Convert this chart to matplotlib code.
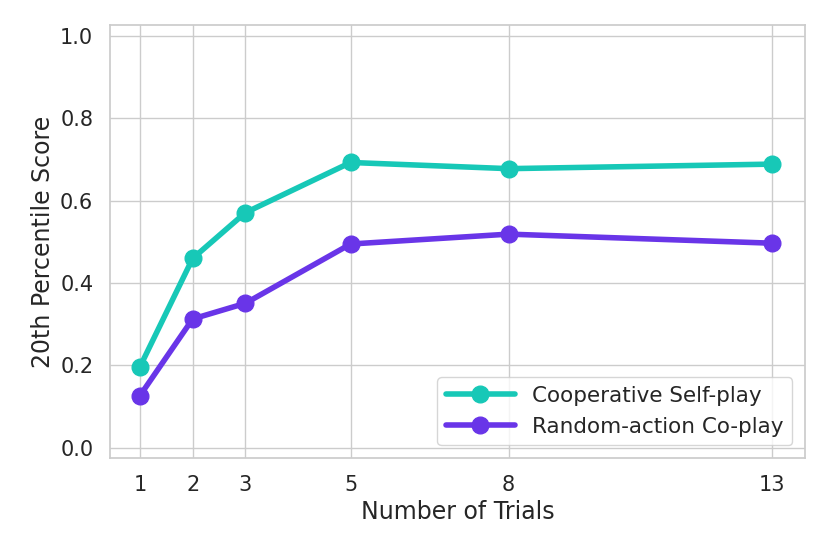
import matplotlib
matplotlib.use("Agg")
import matplotlib.pyplot as plt
import seaborn as sns

trials = [1, 2, 3, 5, 8, 13]
coop_selfplay = [0.197, 0.460, 0.571, 0.693, 0.678, 0.689]
random_coplay = [0.127, 0.313, 0.351, 0.495, 0.519, 0.497]
labels = ["Cooperative Self-play", "Random-action Co-play"]
colors = ["#17c8b7", "#6935e8"]

sns.set_theme(style="whitegrid")
plt.rcParams['font.family'] = ['DejaVu Sans']

fig = plt.figure(figsize=(8.3, 5.54), dpi=100)
ax = fig.add_axes([0.1325, 0.173, 0.8375, 0.782])
for ys, lab, c in zip([coop_selfplay, random_coplay], labels, colors):
    ax.plot(trials, ys, marker='o', color=c, lw=4, ms=12, label=lab)

ax.set_xticks(trials)
ax.set_xticklabels([str(t) for t in trials])
ax.set_yticks([0, 0.2, 0.4, 0.6, 0.8, 1.0])
ax.set_ylim(-0.025, 1.027)
ax.set_xlim(0.43, 13.63)
ax.tick_params(labelsize=15, pad=6)
ax.set_xlabel("Number of Trials", fontsize=17, labelpad=4)
ax.set_ylabel("20th Percentile Score", fontsize=17)
ax.legend(loc='lower right', fontsize=15.5, handlelength=3.2,
          borderaxespad=0.6)
for s in ax.spines.values():
    s.set_color('#cccccc')
fig.savefig("out.png", dpi=100)
